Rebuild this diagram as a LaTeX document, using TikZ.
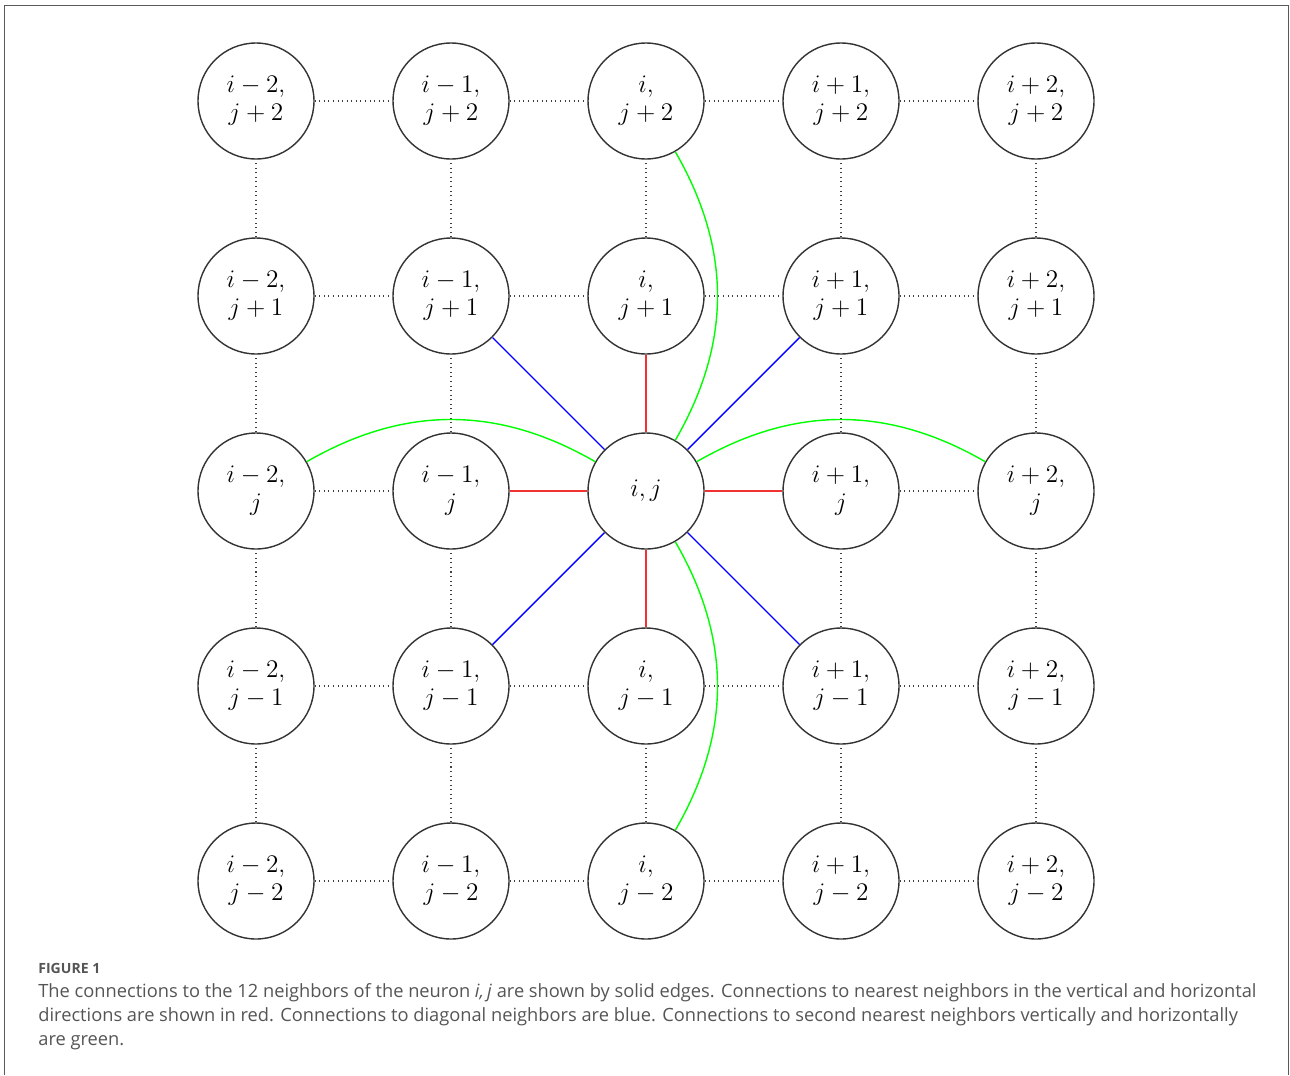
\documentclass[tikz,border=0pt]{standalone}
\usepackage{fontspec}
\newfontfamily\capfont{Open Sans}
\definecolor{capgray}{RGB}{85,85,85}
\definecolor{framegray}{RGB}{90,90,90}
\definecolor{edgered}{RGB}{240,50,50}
\tikzset{
    % circle for one neuron of the grid
    neuron/.style={
        circle,
        draw=black!80,
        line width=0.8pt,
        minimum size=2.32cm,
        inner sep=0pt,
        align=center,
        font=\fontsize{15.8}{15.8}\selectfont
    },
    gridedge/.style={dotted, line width=0.6pt, black!75},
    rededge/.style={line width=0.8pt, edgered},
    blueedge/.style={line width=0.8pt, blue},
    greenedge/.style={line width=0.8pt, green, bend left=30},
    captext/.style={anchor=base west, inner sep=0pt, text=capgray,
        font=\capfont\fontsize{10.4}{12}\selectfont}
}
\begin{document}
\begin{tikzpicture}[x=0.02cm, y=-0.02cm]
   \useasboundingbox (0,0) rectangle (1290,1075);
   % frame round the figure
   \draw[framegray, line width=0.9pt] (4.5,1075) -- (4.5,5.5) -- (1288.5,5.5) -- (1288.5,1075);

   % the 5x5 neurons, n<a><b> with a for i and b for j
   \foreach \a/\ilab in {0/i-2,1/i-1,2/i,3/i+1,4/i+2}{
     \foreach \b/\jlab in {0/j-2,1/j-1,2/j,3/j+1,4/j+2}{
       \ifnum\a\b=22
         \node[neuron] (n\a\b) at ({256+195*\a},{881-195*\b}) {$i,j$};
       \else
         \node[neuron] (n\a\b) at ({256+195*\a},{881-195*\b}) {$\ilab,$\\$\jlab$};
       \fi
     }
   }

   % dotted grid
   \foreach \a/\an in {0/1,1/2,2/3,3/4}{
     \foreach \b in {0,1,3,4}{
       \draw[gridedge] (n\a\b) -- (n\an\b);
       \draw[gridedge] (n\b\a) -- (n\b\an);
     }
   }
   \draw[gridedge] (n02) -- (n12);
   \draw[gridedge] (n32) -- (n42);
   \draw[gridedge] (n20) -- (n21);
   \draw[gridedge] (n23) -- (n24);

   % nearest neighbours
   \foreach \m in {12,32,21,23}
     \draw[rededge] (n22) -- (n\m);
   % diagonal neighbours
   \foreach \m in {11,13,31,33}
     \draw[blueedge] (n22) -- (n\m);
   % second nearest neighbours
   \draw[greenedge] (n02) to (n22);
   \draw[greenedge] (n22) to (n42);
   \draw[greenedge] (n24) to (n22);
   \draw[greenedge] (n22) to (n20);

   % caption
   \node[captext, font=\capfont\bfseries\fontsize{8}{9}\selectfont] (fig) at (38,973) {FIGURE 1};
   \node[captext] (cap1) at (38,997) {The connections to the 12 neighbors of the neuron \textit{i,\,j} are shown by solid edges. Connections to nearest neighbors in the vertical and horizontal};
   \node[captext] (cap2) at (38,1021) {directions are shown in red. Connections to diagonal neighbors are blue. Connections to second nearest neighbors vertically and horizontally};
   \node[captext] (cap3) at (38,1045) {are green.};
\end{tikzpicture}
\end{document}
